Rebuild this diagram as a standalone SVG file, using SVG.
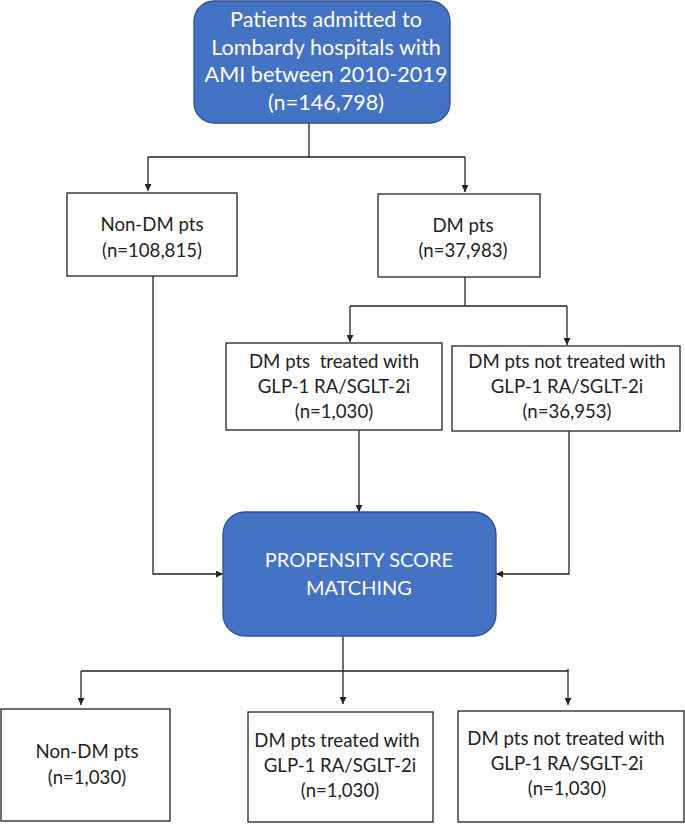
<svg xmlns="http://www.w3.org/2000/svg" width="685" height="824" viewBox="0 0 685 824">
<defs>
<marker id="arr" viewBox="0 0 10 10" refX="10" refY="5" markerWidth="7" markerHeight="7" markerUnits="userSpaceOnUse" orient="auto">
<path d="M0,0 L10,5 L0,10 Z" fill="#222"/>
</marker>
<style>
.blue{fill:#4472C4;stroke:#2F528F;stroke-width:1.3}
.box{fill:#fff;stroke:#222;stroke-width:1.3}
.t{font-family:Lato,"Open Sans","Liberation Sans",sans-serif;font-size:18.6px;fill:#222;text-anchor:middle}
.w{font-family:Lato,"Open Sans","Liberation Sans",sans-serif;font-size:20px;fill:#fff;text-anchor:middle}
.wt{font-size:21.6px}
.c{fill:none;stroke:#222;stroke-width:1.3}
</style>
</defs>
<rect width="685" height="824" fill="#fff"/>
<g id="connectors">
<path class="c" d="M309,123 V157"/>
<path class="c" d="M148,157 H465"/>
<path class="c" d="M148,157 V191" marker-end="url(#arr)"/>
<path class="c" d="M465,157 V192" marker-end="url(#arr)"/>
<path class="c" d="M465,277 V306"/>
<path class="c" d="M350,306 H567"/>
<path class="c" d="M350,306 V342" marker-end="url(#arr)"/>
<path class="c" d="M567,306 V345" marker-end="url(#arr)"/>
<path class="c" d="M153,276 V574 H223" marker-end="url(#arr)"/>
<path class="c" d="M359,430 V512" marker-end="url(#arr)"/>
<path class="c" d="M569,431 V574 H496" marker-end="url(#arr)"/>
<path class="c" d="M343,636 V704" marker-end="url(#arr)"/>
<path class="c" d="M81,671 H568"/>
<path class="c" d="M81,671 V705" marker-end="url(#arr)"/>
<path class="c" d="M568,669 V705" marker-end="url(#arr)"/>
</g>
<g id="n_top">
<rect class="blue" x="194" y="1" width="256" height="122" rx="20"/>
<text class="w wt" x="326" y="27">Patients admitted to</text>
<text class="w wt" x="326" y="55">Lombardy hospitals with</text>
<text class="w wt" x="326" y="82">AMI between 2010-2019</text>
<text class="w wt" x="326" y="110">(n=146,798)</text>
</g>
<g id="n_nondm">
<rect class="box" x="67" y="193" width="170" height="83"/>
<text class="t" x="152" y="231">Non-DM pts</text>
<text class="t" x="152" y="257">(n=108,815)</text>
</g>
<g id="n_dm">
<rect class="box" x="378" y="194" width="162" height="83"/>
<text class="t" x="463" y="232">DM pts</text>
<text class="t" x="463" y="257">(n=37,983)</text>
</g>
<g id="n_treated">
<rect class="box" x="226" y="343" width="216" height="87"/>
<text class="t" x="334" y="368" xml:space="preserve">DM pts  treated with</text>
<text class="t" x="334" y="393">GLP-1 RA/SGLT-2i</text>
<text class="t" x="334" y="418">(n=1,030)</text>
</g>
<g id="n_nottreated">
<rect class="box" x="452" y="346" width="228" height="85"/>
<text class="t" x="567" y="368">DM pts not treated with</text>
<text class="t" x="567" y="393">GLP-1 RA/SGLT-2i</text>
<text class="t" x="567" y="418">(n=36,953)</text>
</g>
<g id="n_psm">
<rect class="blue" x="223" y="512" width="273" height="124" rx="22"/>
<text class="w" x="359" y="567">PROPENSITY SCORE</text>
<text class="w" x="359" y="595">MATCHING</text>
</g>
<g id="n_out_nondm">
<rect class="box" x="1" y="709" width="169" height="112"/>
<text class="t" x="87" y="758">Non-DM pts</text>
<text class="t" x="87" y="784">(n=1,030)</text>
</g>
<g id="n_out_treated">
<rect class="box" x="248" y="712" width="185" height="110"/>
<text class="t" x="337" y="747">DM pts treated with</text>
<text class="t" x="340" y="772">GLP-1 RA/SGLT-2i</text>
<text class="t" x="340" y="797">(n=1,030)</text>
</g>
<g id="n_out_nottreated">
<rect class="box" x="458" y="711" width="226" height="111"/>
<text class="t" x="566" y="745">DM pts not treated with</text>
<text class="t" x="567" y="770">GLP-1 RA/SGLT-2i</text>
<text class="t" x="567" y="795">(n=1,030)</text>
</g>
</svg>
